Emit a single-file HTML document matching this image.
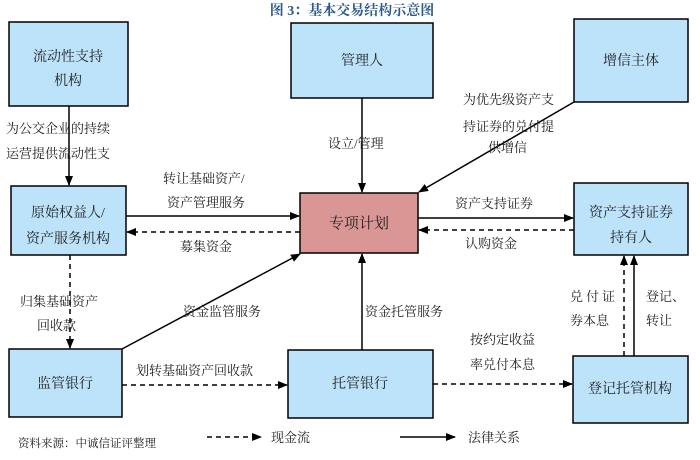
<!DOCTYPE html>
<html><head><meta charset="utf-8"><style>
body{margin:0;background:#fff}
svg text{font-family:"Liberation Serif","Noto Serif CJK SC","Noto Sans CJK SC",serif;fill:#222}
</style></head><body>
<svg width="700" height="455" viewBox="0 0 700 455" xmlns="http://www.w3.org/2000/svg">
<defs>
<marker id="a" markerWidth="10" markerHeight="8" refX="9" refY="4" orient="auto" markerUnits="userSpaceOnUse"><path d="M0,0 L10,4 L0,8z" fill="#000"/></marker>
</defs>
<text x="352" y="15" text-anchor="middle" font-size="14" font-weight="bold" style="fill:#2d5a88">图 3：基本交易结构示意图</text>
<g stroke="#000" stroke-width="1.5" fill="#bde3fb">
<rect x="9" y="22" width="119" height="84"/>
<rect x="291" y="23" width="142" height="75"/>
<rect x="574" y="19" width="114" height="83"/>
<rect x="11" y="186" width="115" height="69"/>
<rect x="300" y="193" width="118" height="60" fill="#d99694"/>
<rect x="574" y="183" width="114" height="72"/>
<rect x="9" y="349" width="113" height="68"/>
<rect x="288" y="350" width="145" height="68"/>
<rect x="573" y="356" width="115" height="67"/>
</g>
<g font-size="14" text-anchor="middle">
<text x="68" y="61">流动性支持</text><text x="68" y="85">机构</text>
<text x="362" y="65">管理人</text>
<text x="631" y="65">增信主体</text>
<text x="68" y="217">原始权益人/</text><text x="68" y="243">资产服务机构</text>
<text x="359" y="228" font-size="15">专项计划</text>
<text x="631" y="217">资产支持证券</text><text x="631" y="242">持有人</text>
<text x="65" y="388">监管银行</text>
<text x="360" y="388">托管银行</text>
<text x="630" y="393">登记托管机构</text>
</g>
<g stroke="#000" stroke-width="1.5" fill="none">
<line x1="69" y1="106" x2="69" y2="185" marker-end="url(#a)"/>
<line x1="362" y1="98" x2="362" y2="192" marker-end="url(#a)"/>
<line x1="574" y1="102" x2="419" y2="192" marker-end="url(#a)"/>
<line x1="126" y1="216" x2="299" y2="216" marker-end="url(#a)"/>
<line x1="418" y1="218" x2="573" y2="218" marker-end="url(#a)"/>
<line x1="122" y1="349" x2="300" y2="254" marker-end="url(#a)"/>
<line x1="362" y1="350" x2="362" y2="254" marker-end="url(#a)"/>
<line x1="634" y1="356" x2="634" y2="256" marker-end="url(#a)"/>
<line x1="400" y1="437" x2="455" y2="437" marker-end="url(#a)"/>
</g>
<g stroke="#000" stroke-width="1.5" fill="none" stroke-dasharray="5,4">
<line x1="300" y1="232" x2="127" y2="232" marker-end="url(#a)"/>
<line x1="574" y1="230" x2="419" y2="230" marker-end="url(#a)"/>
<line x1="70" y1="255" x2="70" y2="348" marker-end="url(#a)"/>
<line x1="122" y1="385" x2="287" y2="385" marker-end="url(#a)"/>
<line x1="433" y1="384" x2="572" y2="384" marker-end="url(#a)"/>
<line x1="624" y1="356" x2="624" y2="256" marker-end="url(#a)"/>
<line x1="207" y1="437" x2="261" y2="437" marker-end="url(#a)"/>
</g>
<g font-size="13">
<text x="6" y="133">为公交企业的持续</text><text x="6" y="158">运营提供流动性支</text>
<text x="328" y="148">设立/管理</text>
<text x="463" y="104">为优先级资产支</text><text x="463" y="131">持证券的兑付提</text><text x="488" y="152">供增信</text>
<text x="163" y="183">转让基础资产/</text><text x="167" y="207">资产管理服务</text>
<text x="180" y="251">募集资金</text>
<text x="455" y="208">资产支持证券</text>
<text x="465" y="248">认购资金</text>
<text x="20" y="306">归集基础资产</text><text x="37" y="330">回收款</text>
<text x="183" y="316">资金监管服务</text>
<text x="365" y="316">资金托管服务</text>
<text x="136" y="375">划转基础资产回收款</text>
<text x="470" y="344">按约定收益</text><text x="470" y="369">率兑付本息</text>
<text x="570" y="301" letter-spacing="3">兑付证</text><text x="570" y="325">券本息</text>
<text x="646" y="301">登记、</text><text x="646" y="325">转让</text>
<text x="271" y="442">现金流</text>
<text x="468" y="442">法律关系</text>
</g>
<text x="18" y="447" font-size="11.5">资料来源：中诚信证评整理</text>
</svg>
</body></html>
